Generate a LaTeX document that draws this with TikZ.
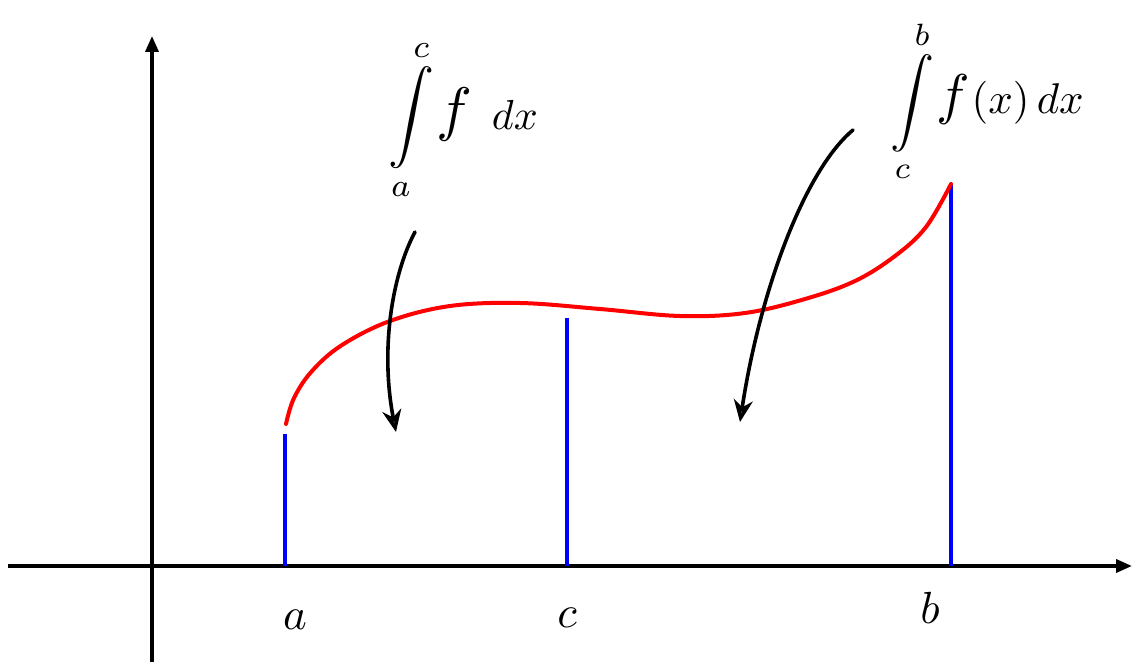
\documentclass[tikz,border=0pt]{standalone}
\usetikzlibrary{arrows.meta}
\begin{document}
\begin{tikzpicture}[x=1pt,y=-1pt,
  axis/.style={line width=3.6pt,-{Triangle[length=16pt,width=13pt]}},
  ordline/.style={blue,line width=4pt},
  curve/.style={red,line width=4pt,line cap=round},
  hand/.style={line width=3.6pt,line cap=round,-{Stealth[open,length=22pt,width=19pt,line width=3.6pt]}},
  lbl/.style={inner sep=0pt}]
\useasboundingbox (0,0) rectangle (1140,666);
% axes
\coordinate (xs) at (8,566);
\coordinate (xe) at (1132,566);
\coordinate (ys) at (152,662);
\coordinate (ye) at (152,36);
\draw[axis] (xs) -- (xe);
\draw[axis] (ys) -- (ye);
% ordinates
\coordinate (a0) at (285,566); \coordinate (a1) at (285,434);
\coordinate (c0) at (567,566); \coordinate (c1) at (567,318);
\coordinate (b0) at (951,566); \coordinate (b1) at (951,185);
\draw[ordline] (a0) -- (a1);
\draw[ordline] (c0) -- (c1);
\draw[ordline] (b0) -- (b1);
% curve
\draw[curve] plot[smooth,tension=0.6] coordinates {(286,424) (294,398) (312,371) (342,345) (390,321) (450,306) (520,303) (600,309) (680,316) (745,313) (805,299) (855,281) (895,256) (926,227) (951,184)};
% axis labels
\node[lbl] (la) at (295,620) {\scalebox{4.5}{$a$}};
\node[lbl] (lc) at (567,618) {\scalebox{4.5}{$c$}};
\node[lbl] (lb) at (930,608) {\scalebox{4.5}{$b$}};
% integrals
\node[lbl] (i1) at (463,120) {\scalebox{4.6}{$\displaystyle\int\limits_{a}^{c}$}\hspace{2pt}\scalebox{6}{$f$}\hspace{20pt}\scalebox{4.2}{$dx$}};
\node[lbl] (i2) at (987,101) {\scalebox{4.4}{$\displaystyle\int\limits_{c}^{b}$}\hspace{2pt}\scalebox{5.6}{$f$}\hspace{2pt}\scalebox{4.3}{$(x)\,dx$}};
% arrows
\coordinate (p1) at (415,232);
\coordinate (q1) at (396,432);
\coordinate (p2) at (853,130);
\coordinate (q2) at (740,422);
\draw[hand] (p1) .. controls (392,275) and (380,350) .. (q1);
\draw[hand] (p2) .. controls (805,170) and (760,290) .. (q2);
\end{tikzpicture}
\end{document}
